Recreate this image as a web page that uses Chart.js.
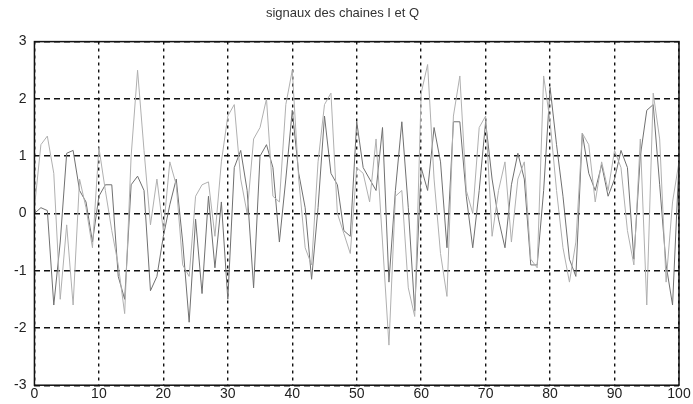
<!DOCTYPE html>
<html>
<head>
<meta charset="utf-8">
<script src="https://cdn.jsdelivr.net/npm/chart.js@4"></script>
<style>
  html, body { margin: 0; padding: 0; background: #fff; }
  #box { width: 693px; height: 404px; }
</style>
</head>
<body>
<div id="box"><canvas id="graf"></canvas></div>
<script>
// temps (echantillons)
const temps = [];
for (let t = 0; t <= 100; t++) temps.push(t);

// chaine I (trace fonce)
const chaineI = [
  0, 0.1, 0.05, -1.6, -0.5, 1.05, 1.1, 0.4, 0.2, -0.5,
  0.3, 0.5, 0.5, -1.1, -1.5, 0.5, 0.65, 0.4, -1.35, -1.1,
  -0.4, 0.15, 0.6, -0.5, -1.9, -0.1, -1.4, 0.3, -0.95, 0.2,
  -1.5, 0.8, 1.1, 0.4, -1.3, 1.0, 1.2, 0.8, -0.5, 0.6,
  1.8, 0.7, 0.1, -1.15, 0.1, 1.7, 0.7, 0.5, -0.3, -0.4,
  1.6, 0.8, 0.6, 0.4, 1.5, -1.2, 0.4, 1.6, 0.1, -1.7,
  0.8, 0.4, 1.5, 0.9, -0.6, 1.6, 1.6, 0.3, -0.6, 0.4,
  1.6, 0.6, -0.1, -0.6, 0.5, 1.05, 0.6, -0.9, -0.9, 0.4,
  2.2, 1.2, 0.3, -0.8, -1.1, 1.4, 0.7, 0.4, 0.85, 0.3,
  0.6, 1.1, 0.8, -0.8, 1.0, 1.8, 1.9, 0.5, -0.9, -1.6,
  0.9
];

// chaine Q (trace clair)
const chaineQ = [
  0.1, 1.2, 1.35, 0.7, -1.5, -0.2, -1.6, 0.6, 0.1, -0.6,
  1.15, 0.4, -0.3, -0.9, -1.75, 1.0, 2.5, 1.1, -0.2, 0.6,
  -0.3, 0.9, 0.5, -0.9, -1.1, 0.3, 0.5, 0.55, -0.4, 0.9,
  1.7, 1.9, 0.6, 0.0, 1.3, 1.5, 2.0, 0.3, 0.2, 1.9,
  2.5, 0.6, -0.6, -0.9, 0.9, 1.9, 2.1, 0.0, -0.35, -0.7,
  0.8, 0.7, 0.2, 1.3, -0.5, -2.3, 0.3, 0.4, -1.3, -1.8,
  2.1, 2.6, 0.6, -0.7, -1.45, 1.7, 2.4, 0.4, 0.0, 1.5,
  1.7, -0.4, 0.4, 0.9, -0.5, 0.6, 0.9, -0.8, -0.95, 2.4,
  1.6, 0.4, -0.6, -1.2, -0.5, 1.4, 1.2, 0.2, 0.9, 0.4,
  1.1, 0.8, -0.3, -0.9, 1.3, -1.6, 2.1, 1.3, -1.2, 0.2,
  0.9
];

const ticksX = [0, 10, 20, 30, 40, 50, 60, 70, 80, 90, 100];
const ticksY = [-3, -2, -1, 0, 1, 2, 3];

// cadre noir autour de la zone de trace
const cadre = {
  id: 'cadre',
  afterDraw(chart) {
    const { ctx, chartArea: a } = chart;
    ctx.save();
    ctx.strokeStyle = '#111';
    ctx.lineWidth = 1.5;
    ctx.strokeRect(a.left, a.top, a.right - a.left, a.bottom - a.top);
    ctx.restore();
  }
};

new Chart(document.getElementById('graf'), {
  type: 'line',
  data: {
    labels: temps,
    datasets: [
      {
        label: 'Q',
        data: chaineQ,
        borderColor: '#b0b0b0',
        borderWidth: 1,
        pointRadius: 0,
        tension: 0
      },
      {
        label: 'I',
        data: chaineI,
        borderColor: '#707070',
        borderWidth: 1,
        pointRadius: 0,
        tension: 0
      }
    ]
  },
  options: {
    responsive: true,
    maintainAspectRatio: false,
    animation: false,
    layout: { padding: { left: 6, right: 14, top: 4, bottom: 0 } },
    plugins: {
      legend: { display: false },
      tooltip: { enabled: false },
      title: {
        display: true,
        text: 'signaux des chaines I et Q',
        color: '#333',
        font: { family: 'Liberation Sans', size: 13, weight: 'normal' },
        padding: { top: 2, bottom: 20 }
      }
    },
    scales: {
      x: {
        type: 'linear',
        min: 0,
        max: 100,
        afterBuildTicks(axis) { axis.ticks = ticksX.map(v => ({ value: v })); },
        grid: { color: '#111', lineWidth: 1.4, drawTicks: false },
        border: { display: false, dash: [3, 4] },
        ticks: { color: '#222', font: { family: 'Liberation Sans', size: 14 }, padding: 1 }
      },
      y: {
        min: -3,
        max: 3,
        afterBuildTicks(axis) { axis.ticks = ticksY.map(v => ({ value: v })); },
        grid: { color: '#111', lineWidth: 1.4, drawTicks: false },
        border: { display: false, dash: [6, 4] },
        ticks: { color: '#222', font: { family: 'Liberation Sans', size: 14 }, padding: 8 }
      }
    }
  },
  plugins: [cadre]
});
</script>
</body>
</html>
